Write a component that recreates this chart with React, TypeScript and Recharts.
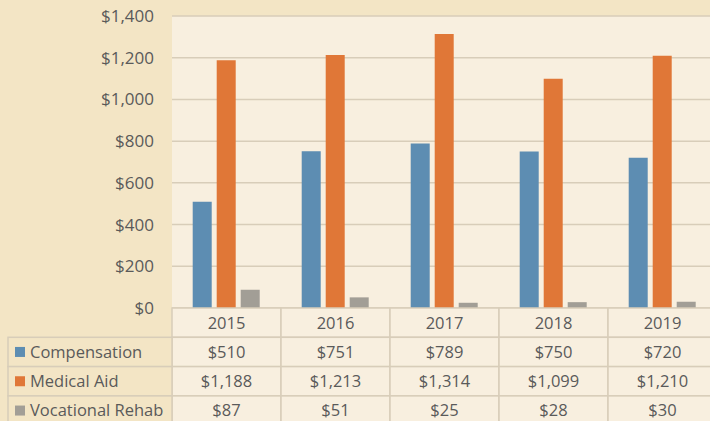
import { BarChart, Bar, XAxis, YAxis, CartesianGrid } from 'recharts';

const years = ['2015', '2016', '2017', '2018', '2019'];
const compensation = [510, 751, 789, 750, 720];
const medicalAid = [1188, 1213, 1314, 1099, 1210];
const vocationalRehab = [87, 51, 25, 28, 30];
const yTicks = [0, 200, 400, 600, 800, 1000, 1200, 1400];

const seriesNames = ['Compensation', 'Medical Aid', 'Vocational Rehab'];
const seriesKeys = ['compensation', 'medical', 'vocational'];
const seriesColors = ['#5d8db2', '#e07737', '#a29e96'];

const data = years.map((year, i) => ({
  year,
  compensation: compensation[i],
  medical: medicalAid[i],
  vocational: vocationalRehab[i],
}));

const OUTER_BG = '#f3e5c5';
const PLOT_BG = '#f8efdf';
const BORDER = '#d8cdb9';
const TEXT = '#5a5a5a';
const FONT = "'Open Sans', sans-serif";
const ROW_H = 29.3;
const COL_W = 109;
const HEADER_LEFT = 8;

const money = (v: number) => '$' + v.toLocaleString('en-US');

// the data table under the plot, one column per category
function TableTick(props: any) {
  const { x, y, payload, index } = props;
  const i = payload.index ?? index;
  const row = data[i];
  const left = x - COL_W / 2;
  const cells = [payload.value, ...seriesKeys.map((k) => money((row as any)[k]))];
  return (
    <g>
      {cells.map((txt, r) => (
        <g key={r}>
          <rect x={left} y={y + r * ROW_H} width={COL_W} height={ROW_H} fill={PLOT_BG} stroke={BORDER} strokeWidth={1.5} />
          <text x={x} y={y + r * ROW_H + ROW_H / 2} dy="0.36em" textAnchor="middle" fill={TEXT} fontSize={16.5} fontFamily={FONT}>
            {txt}
          </text>
        </g>
      ))}
      {i === 0 &&
        seriesNames.map((name, r) => (
          <g key={name}>
            <rect
              x={HEADER_LEFT}
              y={y + (r + 1) * ROW_H}
              width={left - HEADER_LEFT}
              height={ROW_H}
              fill={OUTER_BG}
              stroke={BORDER}
              strokeWidth={1.5}
            />
            <rect x={15} y={y + (r + 1) * ROW_H + ROW_H / 2 - 5} width={10} height={10} fill={seriesColors[r]} />
            <text x={30} y={y + (r + 1) * ROW_H + ROW_H / 2} dy="0.36em" fill={TEXT} fontSize={16.5} fontFamily={FONT}>
              {name}
            </text>
          </g>
        ))}
    </g>
  );
}

export default function App() {
  return (
    <div style={{ position: 'absolute', left: 0, top: 0, width: 710, height: 421, overflow: 'hidden', background: OUTER_BG }}>
      <BarChart
        width={717}
        height={421}
        data={data}
        margin={{ top: 16, right: 0, bottom: 0, left: 0 }}
        barCategoryGap="19%"
        barGap={5}
      >
        <CartesianGrid vertical={false} fill={PLOT_BG} stroke={BORDER} strokeWidth={1.5} />
        <XAxis
          dataKey="year"
          height={113}
          axisLine={false}
          tickLine={false}
          tickSize={0}
          tickMargin={0}
          interval={0}
          tick={<TableTick />}
        />
        <YAxis
          width={172}
          domain={[0, 1400]}
          ticks={yTicks}
          axisLine={false}
          tickLine={false}
          tickMargin={12}
          tickFormatter={money}
          tick={{ fill: TEXT, fontSize: 17, fontFamily: FONT }}
        />
        {seriesKeys.map((k, i) => (
          <Bar key={k} dataKey={k} name={seriesNames[i]} fill={seriesColors[i]} isAnimationActive={false} />
        ))}
      </BarChart>
    </div>
  );
}
